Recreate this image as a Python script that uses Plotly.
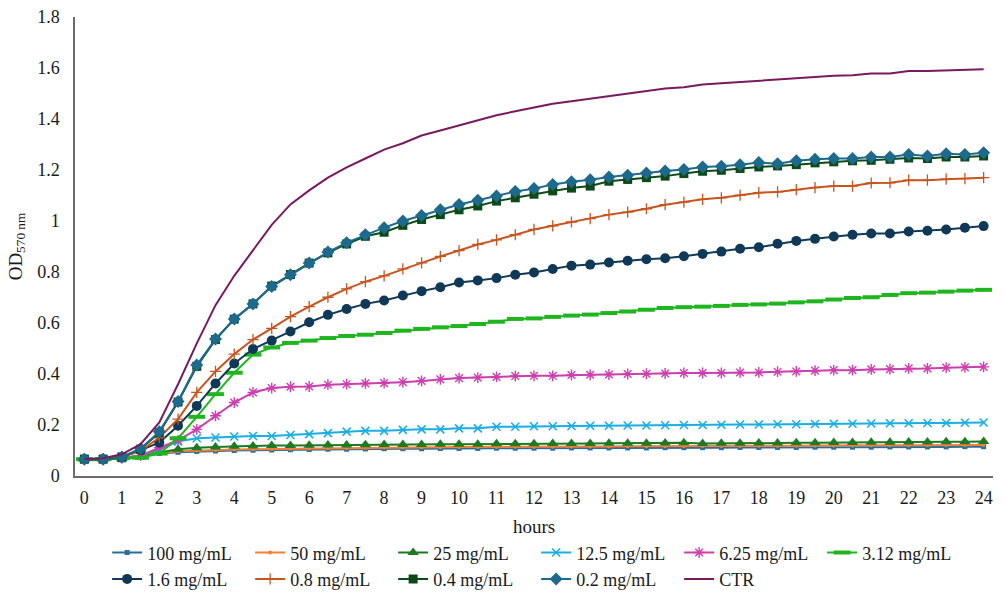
import plotly.graph_objects as go

# Sampling times (hours)
hours = [0, 0.5, 1, 1.5, 2, 2.5, 3, 3.5, 4, 4.5, 5, 5.5, 6, 6.5, 7, 7.5, 8, 8.5,
         9, 9.5, 10, 10.5, 11, 11.5, 12, 12.5, 13, 13.5, 14, 14.5, 15, 15.5, 16,
         16.5, 17, 17.5, 18, 18.5, 19, 19.5, 20, 20.5, 21, 21.5, 22, 22.5, 23,
         23.5, 24]

# OD 570 nm readings per concentration
od_100 = [0.066, 0.066, 0.07, 0.078, 0.088, 0.093, 0.096, 0.098, 0.1, 0.101, 0.102, 0.103, 0.104, 0.105, 0.105, 0.106,
          0.107, 0.107, 0.107, 0.108, 0.108, 0.108, 0.109, 0.109, 0.109, 0.109, 0.11, 0.11, 0.11, 0.11, 0.11, 0.111, 0.111,
          0.111, 0.111, 0.112, 0.112, 0.112, 0.112, 0.113, 0.113, 0.113, 0.113, 0.114, 0.114, 0.114, 0.114, 0.115, 0.115]
od_50 = [0.066, 0.066, 0.07, 0.08, 0.09, 0.097, 0.1, 0.102, 0.104, 0.105, 0.106, 0.107, 0.108, 0.109, 0.11, 0.111,
         0.112, 0.112, 0.113, 0.113, 0.114, 0.114, 0.114, 0.115, 0.115, 0.115, 0.116, 0.116, 0.116, 0.117, 0.117, 0.117, 0.117,
         0.118, 0.118, 0.118, 0.119, 0.119, 0.119, 0.12, 0.12, 0.12, 0.121, 0.121, 0.121, 0.122, 0.122, 0.122, 0.122]
od_25 = [0.066, 0.066, 0.068, 0.075, 0.092, 0.105, 0.111, 0.114, 0.117, 0.118, 0.12, 0.12, 0.121, 0.122, 0.122, 0.123,
         0.124, 0.124, 0.124, 0.125, 0.125, 0.125, 0.126, 0.126, 0.126, 0.127, 0.127, 0.127, 0.128, 0.128, 0.128, 0.129, 0.13,
         0.127, 0.128, 0.128, 0.129, 0.129, 0.13, 0.13, 0.131, 0.131, 0.132, 0.132, 0.133, 0.133, 0.134, 0.134, 0.135]
od_12_5 = [0.066, 0.066, 0.07, 0.08, 0.105, 0.135, 0.148, 0.151, 0.155, 0.157, 0.157, 0.161, 0.164, 0.168, 0.174, 0.177,
           0.177, 0.181, 0.183, 0.183, 0.187, 0.187, 0.193, 0.193, 0.195, 0.195, 0.196, 0.197, 0.197, 0.198, 0.198, 0.199, 0.2,
           0.2, 0.201, 0.202, 0.202, 0.203, 0.203, 0.204, 0.205, 0.205, 0.206, 0.207, 0.207, 0.208, 0.208, 0.209, 0.21]
od_6_25 = [0.066, 0.066, 0.07, 0.08, 0.111, 0.14, 0.183, 0.236, 0.288, 0.328, 0.345, 0.35, 0.351, 0.358, 0.36, 0.363,
           0.364, 0.368, 0.373, 0.379, 0.384, 0.386, 0.389, 0.392, 0.393, 0.393, 0.396, 0.397, 0.398, 0.4, 0.401, 0.402, 0.404,
           0.404, 0.404, 0.406, 0.406, 0.409, 0.41, 0.413, 0.415, 0.415, 0.418, 0.419, 0.422, 0.422, 0.425, 0.426, 0.428]
od_3_12 = [0.066, 0.066, 0.07, 0.072, 0.088, 0.148, 0.232, 0.321, 0.405, 0.476, 0.504, 0.522, 0.531, 0.541, 0.549, 0.554,
           0.561, 0.57, 0.577, 0.583, 0.588, 0.596, 0.605, 0.616, 0.618, 0.624, 0.629, 0.633, 0.639, 0.645, 0.652, 0.659, 0.662,
           0.664, 0.667, 0.671, 0.673, 0.676, 0.681, 0.685, 0.692, 0.698, 0.701, 0.71, 0.717, 0.719, 0.723, 0.727, 0.73]
od_1_6 = [0.066, 0.066, 0.072, 0.1, 0.131, 0.197, 0.275, 0.363, 0.441, 0.498, 0.531, 0.567, 0.603, 0.632, 0.655, 0.675,
          0.688, 0.708, 0.725, 0.74, 0.759, 0.767, 0.776, 0.789, 0.798, 0.812, 0.825, 0.829, 0.837, 0.844, 0.85, 0.854, 0.862,
          0.871, 0.88, 0.891, 0.897, 0.911, 0.922, 0.93, 0.939, 0.946, 0.951, 0.951, 0.959, 0.962, 0.967, 0.974, 0.98]
od_0_8 = [0.066, 0.066, 0.075, 0.098, 0.151, 0.223, 0.328, 0.41, 0.478, 0.535, 0.579, 0.625, 0.664, 0.701, 0.734, 0.762,
          0.785, 0.812, 0.836, 0.861, 0.884, 0.908, 0.926, 0.946, 0.967, 0.981, 0.996, 1.009, 1.025, 1.035, 1.048, 1.064, 1.074,
          1.085, 1.091, 1.101, 1.111, 1.114, 1.123, 1.131, 1.137, 1.137, 1.149, 1.15, 1.16, 1.16, 1.164, 1.166, 1.17]
od_0_4 = [0.066, 0.066, 0.075, 0.105, 0.17, 0.29, 0.43, 0.535, 0.615, 0.675, 0.745, 0.79, 0.835, 0.875, 0.91, 0.94,
          0.956, 0.983, 1.006, 1.025, 1.044, 1.059, 1.078, 1.091, 1.105, 1.118, 1.129, 1.137, 1.156, 1.163, 1.17, 1.176, 1.186,
          1.195, 1.199, 1.206, 1.212, 1.216, 1.221, 1.228, 1.232, 1.236, 1.238, 1.242, 1.247, 1.245, 1.251, 1.251, 1.255]
od_0_2 = [0.066, 0.066, 0.075, 0.107, 0.174, 0.292, 0.435, 0.537, 0.616, 0.675, 0.743, 0.789, 0.835, 0.878, 0.915, 0.946,
          0.974, 1.0, 1.022, 1.044, 1.065, 1.081, 1.098, 1.116, 1.127, 1.143, 1.154, 1.162, 1.173, 1.179, 1.188, 1.196, 1.202,
          1.212, 1.215, 1.221, 1.229, 1.225, 1.236, 1.242, 1.245, 1.245, 1.251, 1.251, 1.261, 1.255, 1.264, 1.261, 1.268]
od_ctr = [0.067, 0.070, 0.085, 0.125, 0.21, 0.36, 0.52, 0.67, 0.785, 0.885, 0.985, 1.065, 1.12, 1.17, 1.21, 1.245,
          1.28, 1.305, 1.335, 1.355, 1.375, 1.395, 1.415, 1.43, 1.445, 1.46, 1.47, 1.48, 1.49, 1.50, 1.51, 1.52, 1.525,
          1.535, 1.54, 1.545, 1.55, 1.555, 1.56, 1.565, 1.57, 1.572, 1.578, 1.578, 1.588, 1.588, 1.59, 1.592, 1.595]

x_ticks = list(range(0, 25))
y_ticks = [0, 0.2, 0.4, 0.6, 0.8, 1, 1.2, 1.4, 1.6, 1.8]
y_tick_text = ["0", "0.2", "0.4", "0.6", "0.8", "1", "1.2", "1.4", "1.6", "1.8"]

# name, values, line colour, marker symbol, marker size, marker outline width
series = [
    ("100 mg/mL", od_100, "#2a6f9b", "square", 5, 0),
    ("50 mg/mL", od_50, "#f47f35", "circle", 4, 0),
    ("25 mg/mL", od_25, "#1d7a22", "triangle-up", 10, 0),
    ("12.5 mg/mL", od_12_5, "#1aaee3", "x-thin-open", 8, 1.6),
    ("6.25 mg/mL", od_6_25, "#cc3fae", "asterisk-open", 9, 1.4),
    ("3.12 mg/mL", od_3_12, "#1fb51f", "line-ew-open", 12, 4),
    ("1.6 mg/mL", od_1_6, "#0f3957", "circle", 10, 0),
    ("0.8 mg/mL", od_0_8, "#c8541e", "cross-thin-open", 8, 1.3),
    ("0.4 mg/mL", od_0_4, "#0d4a17", "square", 9, 0),
    ("0.2 mg/mL", od_0_2, "#1d6a8d", "diamond", 10, 0),
]

fig = go.Figure()
for name, vals, color, symbol, size, lw in series:
    marker = dict(symbol=symbol, size=size, color=color)
    if lw:
        marker["line"] = dict(color=color, width=lw)
    fig.add_trace(go.Scatter(x=hours, y=vals, name=name, mode="lines+markers",
                             line=dict(color=color, width=2), marker=marker))

fig.add_trace(go.Scatter(x=hours, y=od_ctr, name="CTR", mode="lines",
                         line=dict(color="#7a1a5e", width=2)))

font_family = "Liberation Serif"
fig.update_layout(
    width=1004, height=593,
    margin=dict(l=75, r=11, t=17, b=117, autoexpand=False),
    plot_bgcolor="white", paper_bgcolor="white",
    font=dict(family=font_family, size=17, color="#1a1a1a"),
    showlegend=True,
    legend=dict(orientation="h", x=0.035, xanchor="left", y=-0.127, yanchor="top",
                entrywidth=98, entrywidthmode="pixels",
                font=dict(family=font_family, size=18, color="#1a1a1a"),
                traceorder="normal", itemwidth=30),
)
fig.update_xaxes(
    range=[-0.25, 24.25], tickvals=x_ticks, ticks="", showgrid=False, zeroline=False,
    showline=True, linecolor="#6b6b6b", linewidth=1.5, ticklabelstandoff=5,
    tickfont=dict(size=18), title=dict(text="hours", font=dict(size=19), standoff=12),
)
fig.update_yaxes(
    range=[0, 1.8], tickvals=y_ticks, ticktext=y_tick_text, ticks="", showgrid=False, zeroline=False,
    showline=True, linecolor="#6b6b6b", linewidth=1.5, ticklabelstandoff=10,
    tickfont=dict(size=18), title=dict(text="OD<sub>570 nm</sub>", font=dict(size=19), standoff=10),
)

fig.write_html("out.html")
